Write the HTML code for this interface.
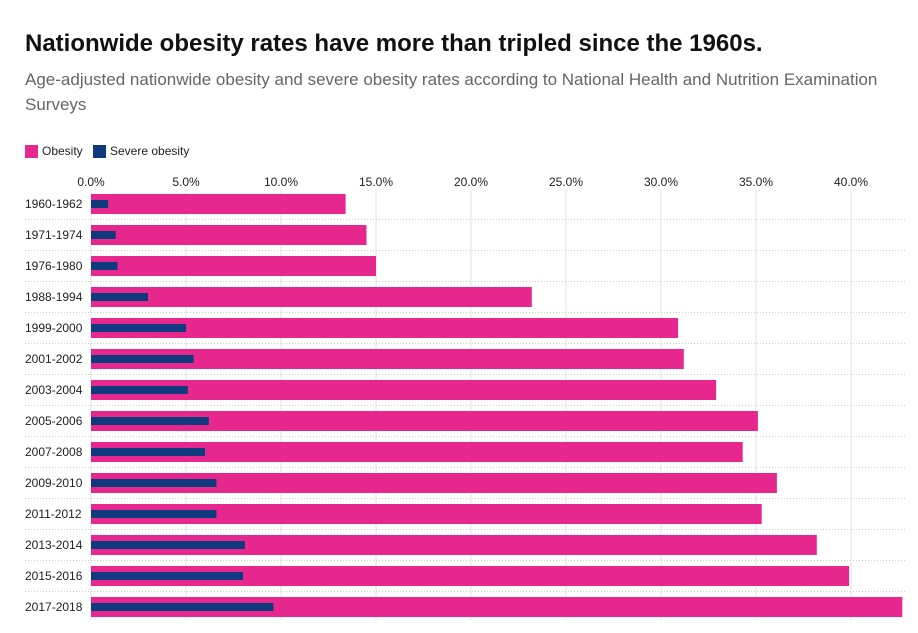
<!DOCTYPE html>
<html><head><meta charset="utf-8"><style>
body{margin:0;background:#fff;font-family:"Liberation Sans",sans-serif;width:918px;height:633px;overflow:hidden;position:relative}
#title{position:absolute;left:25px;top:30px;font-size:24px;font-weight:bold;color:#111;letter-spacing:0px}
#sub{position:absolute;left:25px;top:67px;width:870px;font-size:17px;line-height:25px;color:#666}
.leg{position:absolute;top:144px;font-size:12px;color:#222;display:flex;align-items:center}
.sw{width:13px;height:13px;margin-right:4px;display:inline-block}
svg{position:absolute;left:0;top:0}
</style></head><body>
<div id="title">Nationwide obesity rates have more than tripled since the 1960s.</div>
<div id="sub">Age-adjusted nationwide obesity and severe obesity rates according to National Health and Nutrition Examination Surveys</div>
<div class="leg" style="left:25px"><span class="sw" style="background:#e6288e"></span>Obesity</div>
<div class="leg" style="left:93px"><span class="sw" style="background:#0f3a7d"></span>Severe obesity</div>
<svg id="chart" width="918" height="633"></svg>
<script>
const categories=["1960-1962","1971-1974","1976-1980","1988-1994","1999-2000","2001-2002","2003-2004","2005-2006","2007-2008","2009-2010","2011-2012","2013-2014","2015-2016","2017-2018"];
const obesity=[13.4,14.5,15.0,23.2,30.9,31.2,32.9,35.1,34.3,36.1,35.3,38.2,39.9,42.7];
const severe=[0.9,1.3,1.4,3.0,5.0,5.4,5.1,6.2,6.0,6.6,6.6,8.1,8.0,9.6];
const ticks=[0,5,10,15,20,25,30,35,40];
const tickLabels=["0.0%","5.0%","10.0%","15.0%","20.0%","25.0%","30.0%","35.0%","40.0%"];
const NS="http://www.w3.org/2000/svg";
const svg=document.getElementById('chart');
const x=v=>91+v*19;
const y=i=>204+i*31;
function mk(t,a){const e=document.createElementNS(NS,t);for(const k in a)e.setAttribute(k,a[k]);svg.appendChild(e);return e;}
ticks.forEach((t,i)=>{
 const l=mk('line',{x1:x(t),x2:x(t),y1:190,y2:620,stroke:'#e3e3e3','stroke-width':1});
 
 
 const tx=mk('text',{x:x(t),y:186,'text-anchor':'middle','font-size':12,fill:'#222'});
 tx.textContent=tickLabels[i];
 
 
});
categories.forEach((c,i)=>{
 if(i<categories.length-1){const s=mk('line',{x1:25,x2:905,y1:y(i)+15.5,y2:y(i)+15.5,stroke:'#ccc','stroke-dasharray':'1,2'});
 
 }
 const t=mk('text',{x:25,y:y(i)+4,'font-size':12,fill:'#222'});
 t.textContent=c;
 
 
 const b=mk('rect',{x:x(0),y:y(i)-10,width:x(obesity[i])-x(0),height:20,fill:'#e6288e'});
 
 
 const s2=mk('rect',{x:x(0),y:y(i)-4,width:x(severe[i])-x(0),height:8,fill:'#0f3a7d'});
 
 
});
</script>
</body></html>
